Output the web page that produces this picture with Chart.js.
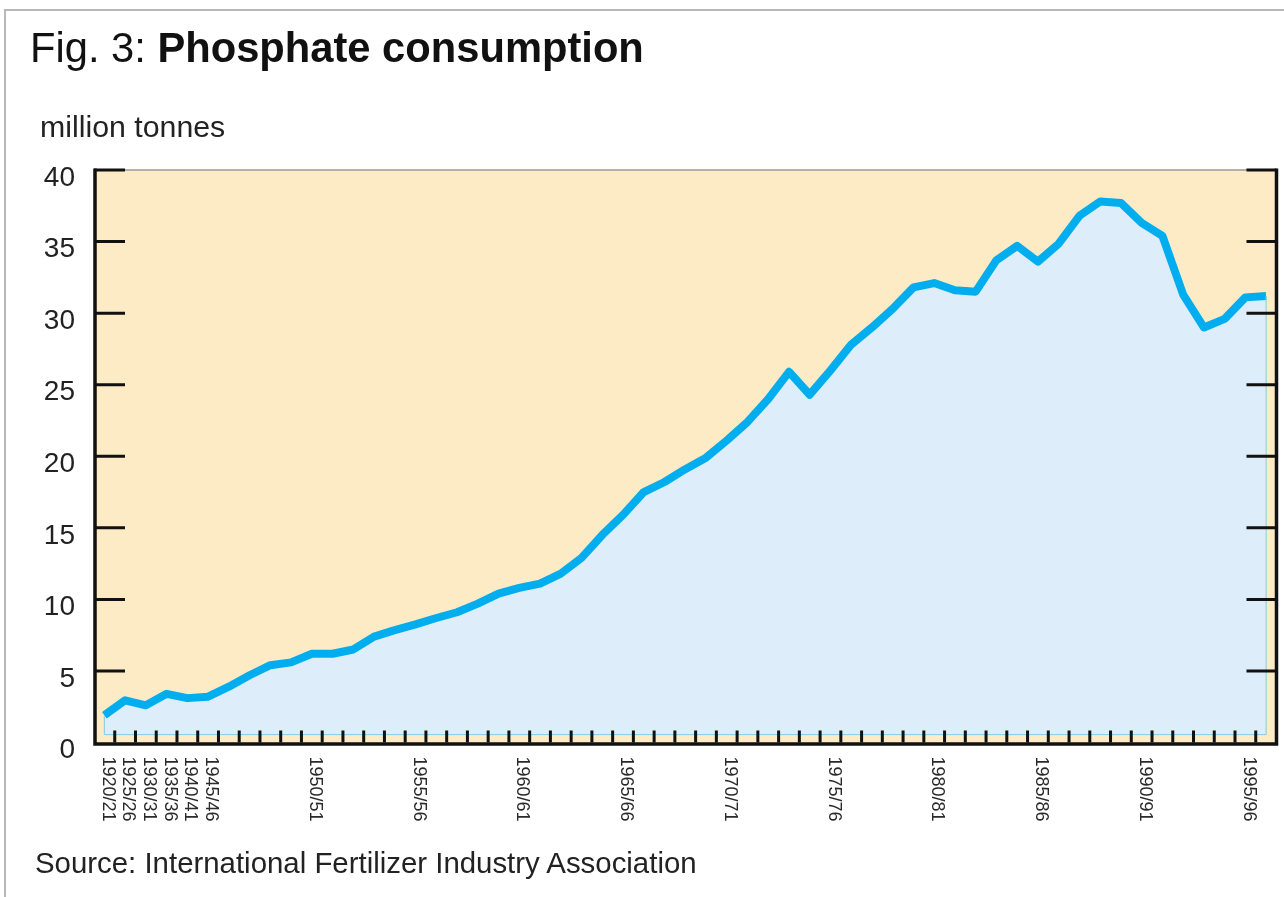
<!DOCTYPE html>
<html>
<head>
<meta charset="utf-8">
<title>Phosphate consumption</title>
<script src="https://cdn.jsdelivr.net/npm/chart.js@4.4.1/dist/chart.umd.min.js"></script>
<style>
  html, body { margin: 0; padding: 0; background: #fff; }
  body { width: 1284px; height: 897px; position: relative; overflow: hidden; font-family: "Liberation Sans", Arial, sans-serif; }
  .frame { position: absolute; left: 4px; top: 9px; width: 1300px; height: 900px; border-left: 2px solid #b8b8b8; border-top: 2px solid #b8b8b8; }
  canvas { position: absolute; left: 0; top: 0; }
  .title { position: absolute; left: 30px; top: 27px; font-size: 41.7px; line-height: 1; color: #111; white-space: nowrap; }
  .unit { position: absolute; left: 40px; top: 112px; font-size: 30.3px; line-height: 1; color: #222; white-space: nowrap; }
  .source { position: absolute; left: 35px; top: 848px; font-size: 29.4px; line-height: 1; color: #222; white-space: nowrap; }
</style>
</head>
<body>
<div class="frame"></div>
<canvas id="chart" width="1284" height="897"></canvas>
<div class="title">Fig. 3: <b>Phosphate consumption</b></div>
<div class="unit">million tonnes</div>
<div class="source">Source: International Fertilizer Industry Association</div>

<script>
// five-year steps up to the war, then every season
const categories = [
  "1920/21", "1925/26", "1930/31", "1935/36", "1940/41",
  "1945/46", "1946/47", "1947/48", "1948/49", "1949/50",
  "1950/51", "1951/52", "1952/53", "1953/54", "1954/55",
  "1955/56", "1956/57", "1957/58", "1958/59", "1959/60",
  "1960/61", "1961/62", "1962/63", "1963/64", "1964/65",
  "1965/66", "1966/67", "1967/68", "1968/69", "1969/70",
  "1970/71", "1971/72", "1972/73", "1973/74", "1974/75",
  "1975/76", "1976/77", "1977/78", "1978/79", "1979/80",
  "1980/81", "1981/82", "1982/83", "1983/84", "1984/85",
  "1985/86", "1986/87", "1987/88", "1988/89", "1989/90",
  "1990/91", "1991/92", "1992/93", "1993/94", "1994/95",
  "1995/96", "1996/97"
]

// million tonnes
const consumption = [
  1.9, 2.95, 2.6, 3.4, 3.1,
  3.2, 3.9, 4.7, 5.4, 5.6,
  6.2, 6.2, 6.5, 7.4, 7.85,
  8.25, 8.7, 9.1, 9.7, 10.4,
  10.8, 11.1, 11.8, 12.9, 14.5,
  15.9, 17.5, 18.2, 19.1, 19.9,
  21.1, 22.4, 24.0, 25.9, 24.3,
  26.0, 27.8, 29.0, 30.3, 31.8,
  32.1, 31.6, 31.5, 33.7, 34.7,
  33.6, 34.85, 36.8, 37.8, 37.7,
  36.3, 35.4, 31.3, 29.0, 29.6,
  31.1, 31.2
]

const axisLabels = [
  "1920/21", "1925/26", "1930/31", "1935/36", "1940/41", "1945/46",
  "1950/51", "1955/56", "1960/61", "1965/66", "1970/71",
  "1975/76", "1980/81", "1985/86", "1990/91", "1995/96"
]

const yTicks = [0, 5, 10, 15, 20, 25, 30, 35, 40]
const fillBase = 0.55

const FONT = "'Liberation Sans', Arial, sans-serif"

const plotFrame = {
  id: "plotFrame",
  beforeDraw(chart) {
    const { ctx, chartArea: a } = chart
    ctx.save()
    ctx.fillStyle = "#fdebc6"
    ctx.fillRect(a.left, a.top, a.right - a.left, a.bottom - a.top)
    ctx.restore()
  },
  afterDraw(chart) {
    const { ctx, chartArea: a } = chart
    const xs = chart.scales.x
    const ys = chart.scales.y
    const n = categories.length
    const step = xs.getPixelForValue(1) - xs.getPixelForValue(0)

    ctx.save()

    // thin outline round the filled area
    const base = ys.getPixelForValue(fillBase)
    const x0 = xs.getPixelForValue(0)
    const xN = xs.getPixelForValue(n - 1)
    ctx.strokeStyle = "#7fcdec"
    ctx.lineWidth = 1
    ctx.beginPath()
    ctx.moveTo(x0, ys.getPixelForValue(consumption[0]))
    ctx.lineTo(x0, base)
    ctx.lineTo(xN, base)
    ctx.lineTo(xN, ys.getPixelForValue(consumption[n - 1]))
    ctx.stroke()

    // top edge is a light rule, the other three sides are heavy
    ctx.strokeStyle = "#9a9a9a"
    ctx.lineWidth = 1.5
    ctx.beginPath()
    ctx.moveTo(a.left, a.top)
    ctx.lineTo(a.right, a.top)
    ctx.stroke()

    ctx.strokeStyle = "#111"
    ctx.lineWidth = 3.5
    ctx.lineJoin = "miter"
    ctx.beginPath()
    ctx.moveTo(a.left + 1, a.top - 1.5)
    ctx.lineTo(a.left + 1, a.bottom + 1.5)
    ctx.lineTo(a.right, a.bottom + 1.5)
    ctx.lineTo(a.right, a.top - 1.5)
    ctx.stroke()

    // value ticks on both sides, pointing inwards
    ctx.lineWidth = 3
    ctx.beginPath()
    yTicks.filter(v => v > 0).forEach(v => {
      const y = ys.getPixelForValue(v)
      ctx.moveTo(a.left, y)
      ctx.lineTo(a.left + 31, y)
      ctx.moveTo(a.right - 30, y)
      ctx.lineTo(a.right, y)
    })
    // year ticks sit between the points
    for (let i = 0; i < n - 1; i++) {
      const x = (xs.getPixelForValue(i) + xs.getPixelForValue(i + 1)) / 2
      ctx.moveTo(x, a.bottom)
      ctx.lineTo(x, a.bottom - 12)
    }
    ctx.stroke()

    // year labels, turned to read downwards
    ctx.fillStyle = "#2a2a2a"
    ctx.font = "18px " + FONT
    ctx.textAlign = "left"
    ctx.textBaseline = "middle"
    axisLabels.forEach(label => {
      const i = categories.indexOf(label)
      const x = xs.getPixelForValue(i) + step * 0.15
      ctx.save()
      ctx.translate(x, a.bottom + 14)
      ctx.rotate(Math.PI / 2)
      ctx.fillText(label, 0, 0)
      ctx.restore()
    })

    ctx.restore()
  }
}

new Chart(document.getElementById("chart"), {
  type: "line",
  data: {
    labels: categories,
    datasets: [{
      data: consumption,
      borderColor: "#00aeef",
      borderWidth: 8,
      borderJoinStyle: "round",
      backgroundColor: "#ddeefa",
      fill: { value: fillBase },
      pointRadius: 0,
      tension: 0
    }]
  },
  options: {
    responsive: false,
    animation: false,
    layout: { padding: { top: 170, right: 7.5, left: 0, bottom: 0 } },
    plugins: {
      legend: { display: false },
      tooltip: { enabled: false }
    },
    scales: {
      x: {
        type: "category",
        offset: true,
        grid: { display: false, drawTicks: false },
        border: { display: false },
        ticks: { display: false },
        afterFit: scale => { scale.height = 154.5 }
      },
      y: {
        min: 0,
        max: 40,
        grid: { display: false, drawTicks: false },
        border: { display: false },
        ticks: {
          stepSize: 5,
          padding: 19,
          labelOffset: 8,
          color: "#222",
          font: { family: FONT, size: 28 }
        },
        afterFit: scale => { scale.width = 94 }
      }
    }
  },
  plugins: [plotFrame]
})
</script>
</body>
</html>
